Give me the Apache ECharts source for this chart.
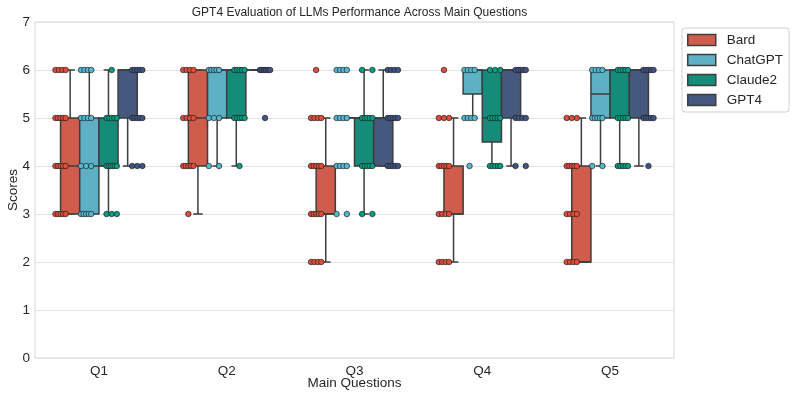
<!DOCTYPE html>
<html><head><meta charset="utf-8">
<script src="https://cdn.jsdelivr.net/npm/echarts@6/dist/echarts.min.js"></script>
<style>html,body{margin:0;padding:0;background:#fff}#c{width:797px;height:399px}</style>
</head><body><div id="c"></div>
<script>
const questions = ['Q1', 'Q2', 'Q3', 'Q4', 'Q5'];
const models = ['Bard', 'ChatGPT', 'Claude2', 'GPT4'];
const yTicks = [0, 1, 2, 3, 4, 5, 6, 7];
const scoreLevels = [2, 3, 4, 5, 6];

// Box statistics per question: [min, q1, median, q3, max]
const bardBox    = [[3,3,4,5,6],[3,4,5,6,6],[2,3,3,4,5],[2,3,3,4,5],[2,2,2,4,5]];
const chatgptBox = [[3,3,4,5,6],[4,5,6,6,6],[5,5,5,5,5],[5,5.5,6,6,6],[4,5,5.5,6,6]];
const claudeBox  = [[3,4,4,5,6],[4,5,6,6,6],[3,4,5,5,6],[4,4.5,5,6,6],[4,5,6,6,6]];
const gpt4Box    = [[4,5,6,6,6],[6,6,6,6,6],[4,4,5,5,6],[4,5,6,6,6],[4,5,6,6,6]];

// Number of observations at each score level (2,3,4,5,6) per question
const bardCounts    = [[0,5,5,5,4],[0,1,5,4,4],[4,5,5,4,1],[4,4,5,3,1],[4,4,5,3,0]];
const chatgptCounts = [[0,5,3,4,4],[0,0,2,3,5],[0,2,4,4,4],[0,0,1,4,4],[0,0,2,5,4]];
const claudeCounts  = [[0,3,6,5,1],[0,0,1,5,5],[0,2,5,5,2],[0,0,5,5,3],[0,0,5,5,5]];
const gpt4Counts    = [[0,0,3,5,5],[0,0,0,1,6],[0,0,5,5,4],[0,0,2,4,5],[0,0,1,5,5]];

const boxes = [bardBox, chatgptBox, claudeBox, gpt4Box];
const counts = [bardCounts, chatgptCounts, claudeCounts, gpt4Counts];

const pointColors = ['#E64B35', '#4DBBD5', '#00A087', '#3C5488'];
const boxColors = ['#D05C4B', '#5EB0C4', '#148C79', '#45587E'];
const EDGE = '#3d3d3d';
const BOX_W = 0.15;
const boxOffsets = [-0.225, -0.075, 0.075, 0.225];
const stripOffsets = [-0.3, -0.1, 0.1, 0.3];
const JIT = 0.04;
const FONT = "'Liberation Sans', Arial, sans-serif";

function makeRender(mi) {
  return function (params, api) {
    const q = api.value(0);
    const mn = api.value(1), q1 = api.value(2), md = api.value(3), q3 = api.value(4), mx = api.value(5);
    const cx = q + boxOffsets[mi];
    const h = BOX_W / 2, c = BOX_W / 4;
    const tl = api.coord([cx - h, q3]);
    const br = api.coord([cx + h, q1]);
    const ls = { stroke: EDGE, lineWidth: 1.5 };
    const line = (x1, y1, x2, y2) => {
      const a = api.coord([x1, y1]), b = api.coord([x2, y2]);
      return { type: 'line', shape: { x1: a[0], y1: a[1], x2: b[0], y2: b[1] }, style: ls };
    };
    const children = [
      line(cx, q3, cx, mx),
      line(cx, q1, cx, mn),
      line(cx - c, mx, cx + c, mx),
      line(cx - c, mn, cx + c, mn),
      { type: 'rect', shape: { x: tl[0], y: tl[1], width: br[0] - tl[0], height: br[1] - tl[1] },
        style: { fill: boxColors[mi], stroke: EDGE, lineWidth: 1.5 } },
      line(cx - h, md, cx + h, md)
    ];
    return { type: 'group', children };
  };
}

const series = [];
models.forEach((m, mi) => {
  series.push({
    name: m, type: 'custom', xAxisIndex: 1, yAxisIndex: 0, z: 2,
    itemStyle: { color: boxColors[mi] },
    renderItem: makeRender(mi),
    encode: { x: 0, y: [1, 2, 3, 4, 5] },
    data: boxes[mi].map((b, qi) => [qi].concat(b))
  });
});
models.forEach((m, mi) => {
  const pts = [];
  counts[mi].forEach((row, qi) => {
    row.forEach((n, li) => {
      for (let i = 0; i < n; i++) {
        const off = n === 1 ? 0 : -JIT + 2 * JIT * i / (n - 1);
        pts.push([qi + stripOffsets[mi] + off, scoreLevels[li]]);
      }
    });
  });
  series.push({
    name: m, type: 'scatter', xAxisIndex: 1, yAxisIndex: 0, z: 5,
    symbolSize: 5.5,
    itemStyle: { color: pointColors[mi], borderColor: '#222', borderWidth: 0.7, opacity: 1 },
    emphasis: { disabled: true },
    data: pts
  });
});

const chart = echarts.init(document.getElementById('c'), null, { renderer: 'canvas' });
chart.setOption({
  animation: false,
  backgroundColor: '#fff',
  textStyle: { fontFamily: FONT },
  title: {
    text: 'GPT4 Evaluation of LLMs Performance Across Main Questions',
    left: 354.5, top: 2, textAlign: 'center',
    textStyle: { fontFamily: FONT, fontSize: 12, fontWeight: 'normal', color: '#262626' }
  },
  legend: {
    orient: 'vertical', left: 682, top: 28,
    padding: [5, 6, 5, 5],
    borderColor: '#d0d0d0', borderWidth: 1, borderRadius: 3,
    itemWidth: 28, itemHeight: 11, itemGap: 6, icon: 'rect',
    textStyle: { fontFamily: FONT, fontSize: 13.5, color: '#262626', lineHeight: 14, padding: [0, 0, 0, 6] },
    data: models.map((m, mi) => ({ name: m, icon: 'rect', itemStyle: { color: boxColors[mi], borderColor: EDGE, borderWidth: 1.5 } }))
  },
  grid: { left: 35, right: 123, top: 22, bottom: 41, show: true, borderColor: '#d6d6d6', borderWidth: 1, outerBoundsMode: 'none', containLabel: false },
  xAxis: [
    { type: 'category', data: questions, boundaryGap: true,
      axisLine: { show: false }, axisTick: { show: false }, splitLine: { show: false },
      axisLabel: { fontFamily: FONT, fontSize: 13.5, color: '#262626', margin: 6 },
      name: 'Main Questions', nameLocation: 'middle', nameGap: 18, nameMoveOverlap: false,
      nameTextStyle: { fontFamily: FONT, fontSize: 13.5, color: '#262626' } },
    { type: 'value', min: -0.5, max: 4.5, show: false }
  ],
  yAxis: {
    type: 'value', min: yTicks[0], max: yTicks[yTicks.length - 1], interval: 1,
    axisLine: { show: false }, axisTick: { show: false },
    splitLine: { lineStyle: { color: '#e3e3e3', width: 1 } },
    axisLabel: { fontFamily: FONT, fontSize: 13.5, color: '#262626', margin: 5 },
    name: 'Scores', nameLocation: 'middle', nameGap: 15, nameRotate: 90, nameMoveOverlap: false,
    nameTextStyle: { fontFamily: FONT, fontSize: 13.5, color: '#262626' }
  },
  series
});
</script></body></html>
